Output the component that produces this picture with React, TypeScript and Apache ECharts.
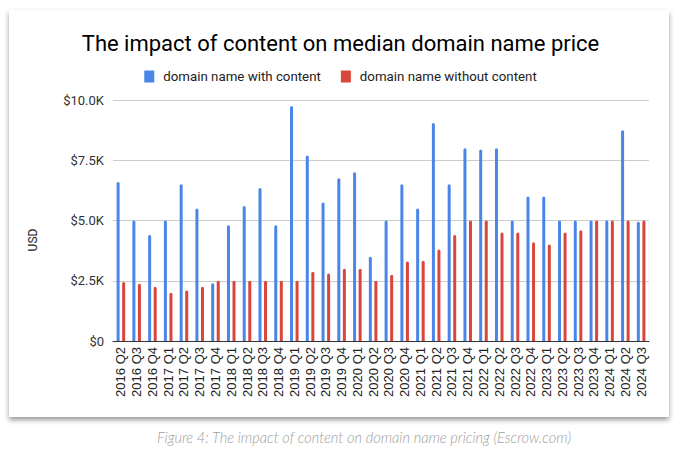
import React, { useEffect, useRef } from "react";
import * as echarts from "echarts";

const categories = [
  "2016 Q2", "2016 Q3", "2016 Q4",
  "2017 Q1", "2017 Q2", "2017 Q3", "2017 Q4",
  "2018 Q1", "2018 Q2", "2018 Q3", "2018 Q4",
  "2019 Q1", "2019 Q2", "2019 Q3", "2019 Q4",
  "2020 Q1", "2020 Q2", "2020 Q3", "2020 Q4",
  "2021 Q1", "2021 Q2", "2021 Q3", "2021 Q4",
  "2022 Q1", "2022 Q2", "2022 Q3", "2022 Q4",
  "2023 Q1", "2023 Q2", "2023 Q3", "2023 Q4",
  "2024 Q1", "2024 Q2", "2024 Q3",
];

const withContent = [
  6600, 5000, 4400,
  5000, 6500, 5500, 2400,
  4800, 5600, 6350, 4800,
  9750, 7700, 5750, 6750,
  7000, 3500, 5000, 6500,
  5500, 9050, 6500, 8000,
  7950, 8000, 5000, 6000,
  6000, 5000, 5000, 5000,
  5000, 8750, 4950,
];

const withoutContent = [
  2450, 2380, 2250,
  2000, 2100, 2250, 2500,
  2500, 2500, 2500, 2500,
  2500, 2870, 2800, 3000,
  3000, 2500, 2750, 3300,
  3330, 3800, 4400, 5000,
  5000, 4500, 4500, 4100,
  4000, 4500, 4600, 5000,
  5000, 5000, 5000,
];

const yTicks = [0, 2500, 5000, 7500, 10000];

const titleText = "The impact of content on median domain name price";
const seriesNames = ["domain name with content", "domain name without content"];
const captionText = "Figure 4: The impact of content on domain name pricing (Escrow.com)";

export default function App() {
  const ref = useRef<HTMLDivElement>(null);

  useEffect(() => {
    if (!ref.current) return;
    const chart = echarts.init(ref.current, undefined, { renderer: "svg" });
    chart.setOption({
      animation: false,
      backgroundColor: "transparent",
      title: {
        text: titleText,
        left: "center",
        top: 27,
        textStyle: {
          fontFamily: "Roboto",
          fontSize: 22,
          fontWeight: "normal",
          color: "#000",
        },
      },
      legend: {
        top: 65,
        left: "center",
        itemWidth: 10,
        itemHeight: 12,
        itemGap: 20,
        icon: "rect",
        textStyle: { fontFamily: "Roboto", fontSize: 13.3, color: "#222", padding: [0, 0, 0, 4] },
        data: seriesNames,
      },
      grid: { left: 113, right: 32, top: 100, bottom: 108, containLabel: false },
      xAxis: {
        type: "category",
        data: categories,
        axisTick: { show: false },
        axisLine: { lineStyle: { color: "#333", width: 1 } },
        axisLabel: {
          rotate: 90,
          interval: 0,
          margin: 6,
          fontFamily: "Liberation Sans",
          fontSize: 13,
          color: "#222",
        },
      },
      yAxis: {
        type: "value",
        min: yTicks[0],
        max: yTicks[yTicks.length - 1],
        interval: 2500,
        axisLine: { show: false },
        axisTick: { show: false },
        splitLine: { lineStyle: { color: "#cccccc", width: 1 } },
        axisLabel: {
          margin: 9,
          fontFamily: "Roboto",
          fontSize: 13,
          color: "#333",
          formatter: (v: number) => (v === 0 ? "$0" : "$" + (v / 1000).toFixed(1) + "K"),
        },
      },
      series: [
        {
          name: seriesNames[0],
          type: "bar",
          data: withContent,
          barWidth: 3,
          barGap: "85%",
          itemStyle: { color: "#4a86e8", borderRadius: [1.5, 1.5, 0, 0] },
        },
        {
          name: seriesNames[1],
          type: "bar",
          data: withoutContent,
          barWidth: 3,
          barGap: "85%",
          itemStyle: { color: "#d9473b", borderRadius: [1.5, 1.5, 0, 0] },
        },
      ],
      graphic: [
        {
          type: "text",
          x: 33,
          y: 240,
          rotation: Math.PI / 2,
          style: {
            text: "USD",
            fontFamily: "Roboto",
            fontSize: 12,
            fill: "#222",
            align: "center",
            verticalAlign: "middle",
          },
        },
        {
          type: "text",
          x: 364,
          y: 437,
          style: {
            text: captionText,
            fontFamily: "Lato",
            fontStyle: "italic",
            fontWeight: 300,
            fontSize: 14.6,
            fill: "#9e9e9e",
            align: "center",
            verticalAlign: "middle",
          },
        },
      ],
    });
    return () => chart.dispose();
  }, []);

  return (
    <div style={{ position: "fixed", left: 0, top: 0, width: 681, height: 449, background: "#fff" }}>
      <div
        style={{
          position: "absolute",
          left: 9,
          top: 10,
          width: 660,
          height: 407,
          background: "#fff",
          boxShadow: "0px 3px 5px rgba(0,0,0,0.4)",
        }}
      />
      <div ref={ref} style={{ position: "absolute", left: 0, top: 0, width: 681, height: 449 }} />
    </div>
  );
}
